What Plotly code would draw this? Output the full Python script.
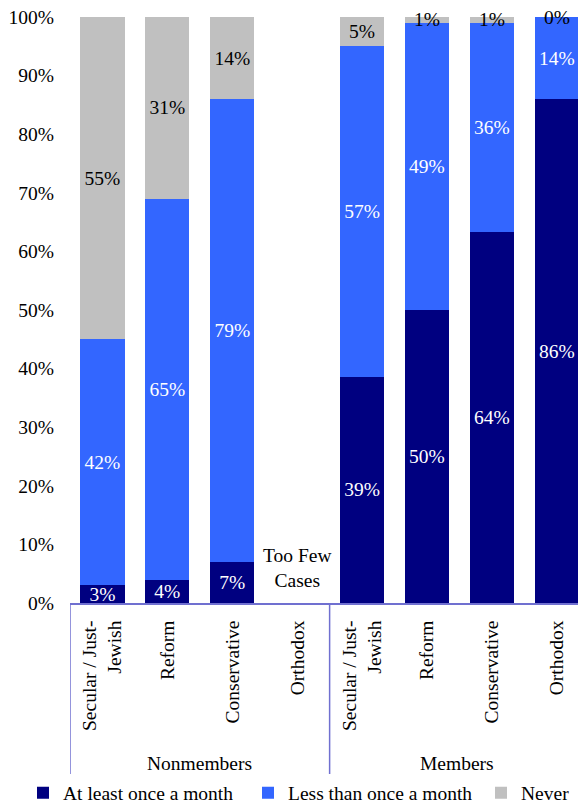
import plotly.graph_objects as go

categories = ["Secular / Just-<br>Jewish", "Reform", "Conservative", "Orthodox",
              "Secular / Just-<br>Jewish", "Reform", "Conservative", "Orthodox"]
groups = ["Nonmembers", "Members"]
series_names = ["At least once a month", "Less than once a month", "Never"]
at_least_monthly = [3, 4, 7, None, 39, 50, 64, 86]
less_than_monthly = [42, 65, 79, None, 57, 49, 36, 14]
never = [55, 31, 14, None, 5, 1, 1, 0]
colors = ["#000080", "#3366FF", "#C0C0C0"]
text_colors = ["white", "white", "black"]
y_ticks = [0, 10, 20, 30, 40, 50, 60, 70, 80, 90, 100]
y_ticklabels = [f"{v}%" for v in y_ticks]
note_text = "Too Few<br>Cases"

FONT = "Liberation Serif"
FS = 19.5
AXIS_COLOR = "#7070D0"
W, H = 578, 798          # page body has an 8px margin
legend_ids = ["legend", "legend2", "legend3"]
legend_x_px = [15, 240, 473]

x = list(range(len(categories)))
series = [at_least_monthly, less_than_monthly, never]
fig = go.Figure()
for name, vals, col, tcol, lid in zip(series_names, series, colors, text_colors, legend_ids):
    fig.add_trace(go.Bar(
        x=x, y=vals, name=name, marker=dict(color=col, line=dict(width=0)),
        text=[f"{v}%" if v is not None else "" for v in vals],
        textposition="inside", insidetextanchor="middle",
        textfont=dict(family=FONT, size=FS, color=tcol),
        constraintext="none", cliponaxis=False, legend=lid,
    ))

# labels for zero-height segments (not drawn by the bar text)
for i in x:
    vals = [s[i] for s in series]
    if any(v is None for v in vals):
        continue
    total = sum(vals)
    cum = 0
    for k, v in enumerate(vals):
        if v == 0:
            fig.add_annotation(x=i, y=100 * cum / total, xref="x", yref="y", text=f"{v}%",
                               showarrow=False, yanchor="middle",
                               font=dict(family=FONT, size=FS, color=text_colors[k]))
        cum += v

legend_common = dict(orientation="h", xref="container", yref="container",
                     xanchor="left", y=13 / H, yanchor="middle",
                     font=dict(family=FONT, size=FS), itemwidth=30)
fig.update_layout(
    barmode="stack", barnorm="percent", bargap=0.32,
    width=W, height=H,
    margin=dict(l=62, r=0, t=9, b=203, autoexpand=False),
    paper_bgcolor="white", plot_bgcolor="white",
    font=dict(family=FONT, size=FS, color="black"),
    uniformtext=dict(minsize=FS, mode="show"),
    showlegend=True,
    legend=dict(x=legend_x_px[0] / W, **legend_common),
    legend2=dict(x=legend_x_px[1] / W, **legend_common),
    legend3=dict(x=legend_x_px[2] / W, **legend_common),
    xaxis=dict(range=[-0.5, 7.45], tickmode="array", tickvals=x, ticktext=categories,
               tickangle=-90, showline=True, linecolor=AXIS_COLOR, linewidth=1.5,
               showgrid=False, zeroline=False, ticks="", ticklabelstandoff=8,
               automargin=False, ticklabeloverflow="allow",
               tickfont=dict(family=FONT, size=FS)),
    yaxis=dict(range=[0, 100], tickmode="array", tickvals=y_ticks, ticktext=y_ticklabels,
               showline=False, showgrid=False, zeroline=False, ticks="",
               ticklabelstandoff=15, automargin=False, ticklabeloverflow="allow",
               tickfont=dict(family=FONT, size=FS)),
)

# group separators and labels
for xs in [-0.5, 3.5, 7.5]:
    fig.add_shape(type="line", xref="x", yref="paper", x0=xs, x1=xs, y0=0, y1=-0.2935,
                  line=dict(color=AXIS_COLOR, width=1.5))
for g, gx in zip(groups, [1.5, 5.47]):
    fig.add_annotation(x=gx, y=-0.2747, xref="x", yref="paper", yanchor="middle",
                       text=g, showarrow=False, font=dict(family=FONT, size=FS))

fig.add_annotation(x=3, y=6, xref="x", yref="y", yanchor="middle", text=note_text,
                   showarrow=False, font=dict(family=FONT, size=FS), align="center")

fig.write_html("out.html")
